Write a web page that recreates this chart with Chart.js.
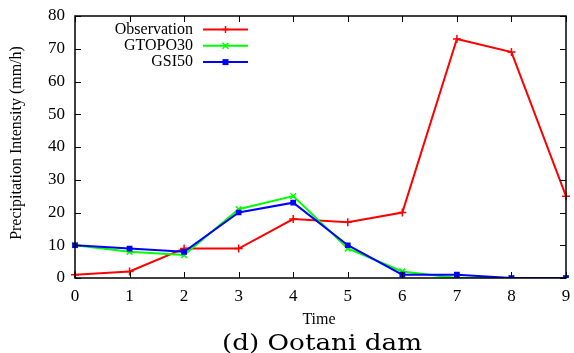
<!DOCTYPE html>
<html>
<head>
<meta charset="utf-8">
<script src="https://cdn.jsdelivr.net/npm/chart.js@4.4.0/dist/chart.umd.min.js"></script>
<style>
    html, body { margin: 0; padding: 0; background: #fff; }
    #wrap { width: 574px; height: 353px; }
</style>
</head>
<body>
<div id="wrap"><canvas id="chart" width="574" height="353"></canvas></div>
<script>
const timeLabels = ['0', '1', '2', '3', '4', '5', '6', '7', '8', '9'];
const observation = [1, 2, 9, 9, 18, 17, 20, 73, 69, 25];
const gtopo30 = [10, 8, 7, 21, 25, 9, 2, 0, 0, 0];
const gsi50 = [10, 9, 8, 20, 23, 10, 1, 1, 0, 0];
const yTicks = [0, 10, 20, 30, 40, 50, 60, 70, 80];

const serif = '"Liberation Serif", "Times New Roman", serif';

const seriesInfo = [
    { label: 'Observation', color: '#ff0000', style: 'cross' },
    { label: 'GTOPO30', color: '#00ff00', style: 'crossRot' },
    { label: 'GSI50', color: '#0000ff', style: 'rect' }
];

// frame, inward ticks, titles, caption and legend (gnuplot look)
const gnuplotFrame = {
    id: 'gnuplotFrame',
    afterDraw(chart) {
        const ctx = chart.ctx;
        const area = chart.chartArea;
        const xs = chart.scales.x;
        const ys = chart.scales.y;
        ctx.save();
        ctx.strokeStyle = '#000';
        ctx.lineWidth = 1.5;
        ctx.strokeRect(area.left, area.top, area.right - area.left, area.bottom - area.top);

        ctx.lineWidth = 1;
        ctx.beginPath();
        timeLabels.forEach((t, i) => {
            const px = Math.round(xs.getPixelForValue(i)) + 0.5;
            ctx.moveTo(px, area.bottom);
            ctx.lineTo(px, area.bottom - 6);
            ctx.moveTo(px, area.top);
            ctx.lineTo(px, area.top + 6);
        });
        yTicks.forEach(v => {
            const py = Math.round(ys.getPixelForValue(v)) + 0.5;
            ctx.moveTo(area.left, py);
            ctx.lineTo(area.left + 6, py);
            ctx.moveTo(area.right, py);
            ctx.lineTo(area.right - 6, py);
        });
        ctx.stroke();

        ctx.fillStyle = '#000';
        ctx.font = '16px ' + serif;
        ctx.textAlign = 'center';
        ctx.textBaseline = 'middle';
        ctx.fillText('Time', 319, 320);

        ctx.save();
        ctx.translate(17, 143);
        ctx.rotate(-Math.PI / 2);
        ctx.fillText('Precipitation Intensity (mm/h)', 0, 0);
        ctx.restore();

        // caption, wide roman face
        ctx.save();
        ctx.font = '23px "DejaVu Serif", serif';
        ctx.textBaseline = 'alphabetic';
        const capW = ctx.measureText('(d) Ootani dam').width;
        ctx.translate(322, 350);
        ctx.scale(200 / capW, 1);
        ctx.fillText('(d) Ootani dam', 0, 0);
        ctx.restore();

        // legend
        ctx.font = '16px ' + serif;
        ctx.textAlign = 'right';
        seriesInfo.forEach((s, i) => {
            const y = 29.5 + i * 16.3;
            ctx.fillStyle = '#000';
            ctx.fillText(s.label, 193, y);
            ctx.strokeStyle = s.color;
            ctx.lineWidth = 2;
            ctx.beginPath();
            ctx.moveTo(203, y);
            ctx.lineTo(248, y);
            ctx.stroke();
            ctx.fillStyle = s.color;
            ctx.lineWidth = 1.5;
            const cx = 225.5;
            ctx.beginPath();
            if (s.style === 'cross') {
                ctx.moveTo(cx - 3.5, y); ctx.lineTo(cx + 3.5, y);
                ctx.moveTo(cx, y - 3.5); ctx.lineTo(cx, y + 3.5);
                ctx.stroke();
            } else if (s.style === 'crossRot') {
                ctx.moveTo(cx - 3, y - 3); ctx.lineTo(cx + 3, y + 3);
                ctx.moveTo(cx - 3, y + 3); ctx.lineTo(cx + 3, y - 3);
                ctx.stroke();
            } else {
                ctx.fillRect(cx - 3, y - 3, 6, 6);
            }
        });
        ctx.restore();
    }
};

function makeDataset(info, values, order) {
    return {
        label: info.label,
        data: values,
        borderColor: info.color,
        backgroundColor: info.color,
        borderWidth: 2,
        pointStyle: info.style,
        pointRadius: info.style === 'rect' ? 3 : 4,
        pointBorderWidth: 1.5,
        pointHoverRadius: 4,
        tension: 0,
        fill: false,
        order: order
    };
}

new Chart(document.getElementById('chart'), {
    type: 'line',
    data: {
        labels: timeLabels,
        datasets: [
            makeDataset(seriesInfo[0], observation, 2),
            makeDataset(seriesInfo[1], gtopo30, 1),
            makeDataset(seriesInfo[2], gsi50, 0)
        ]
    },
    options: {
        responsive: false,
        animation: false,
        layout: { padding: { top: 16, right: 8, left: 0, bottom: 0 } },
        plugins: {
            legend: { display: false },
            tooltip: { enabled: false }
        },
        scales: {
            x: {
                type: 'category',
                offset: false,
                grid: { display: false, drawTicks: false },
                border: { display: false },
                ticks: {
                    padding: 8,
                    color: '#000',
                    maxRotation: 0,
                    autoSkip: false,
                    font: { family: serif, size: 17 }
                },
                afterFit(scale) {
                    scale.height = 75;
                    scale.paddingLeft = 0;
                    scale.paddingRight = 0;
                }
            },
            y: {
                min: 0,
                max: 80,
                grid: { display: false, drawTicks: false },
                border: { display: false },
                ticks: {
                    stepSize: 10,
                    padding: 10,
                    color: '#000',
                    font: { family: serif, size: 17 }
                },
                afterFit(scale) {
                    scale.width = 75;
                    scale.paddingTop = 0;
                    scale.paddingBottom = 0;
                }
            }
        }
    },
    plugins: [gnuplotFrame]
});
</script>
</body>
</html>
